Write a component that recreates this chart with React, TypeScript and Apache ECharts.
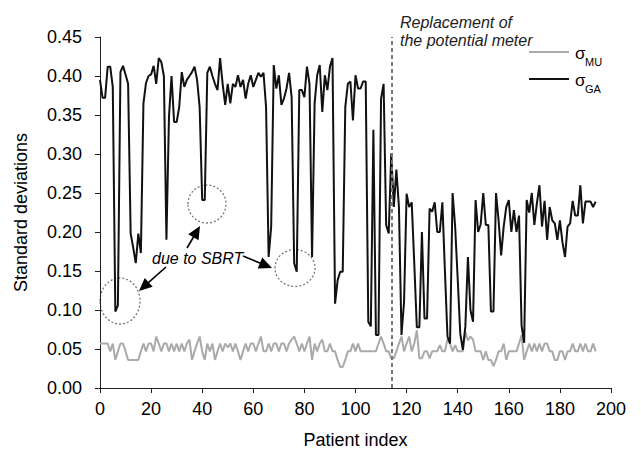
import React, { useEffect, useRef } from "react";
import * as echarts from "echarts";

// sigma_GA (black) – standard deviation per patient
const sigmaGA = [
  0.395, 0.372, 0.372, 0.412, 0.412, 0.386, 0.098, 0.106, 0.405, 0.413,
  0.402, 0.39, 0.198, 0.18, 0.16, 0.198, 0.173, 0.365, 0.391, 0.4,
  0.402, 0.413, 0.39, 0.423, 0.418, 0.4, 0.19, 0.348, 0.4, 0.341,
  0.341, 0.36, 0.405, 0.386, 0.395, 0.4, 0.405, 0.412, 0.395, 0.36,
  0.241, 0.241, 0.404, 0.412, 0.4, 0.39, 0.382, 0.423, 0.39, 0.363,
  0.39, 0.365, 0.39, 0.386, 0.401, 0.386, 0.395, 0.371, 0.39, 0.401,
  0.386, 0.395, 0.404, 0.399, 0.404, 0.36, 0.168, 0.207, 0.414, 0.384,
  0.401, 0.363, 0.371, 0.384, 0.404, 0.373, 0.16, 0.149, 0.382, 0.382,
  0.373, 0.412, 0.39, 0.168, 0.365, 0.401, 0.414, 0.354, 0.401, 0.382,
  0.412, 0.423, 0.108, 0.138, 0.149, 0.149, 0.36, 0.39, 0.393, 0.343,
  0.401, 0.384, 0.384, 0.393, 0.393, 0.085, 0.079, 0.331, 0.068, 0.068,
  0.371, 0.39, 0.209, 0.198, 0.301, 0.232, 0.28, 0.232, 0.068, 0.11,
  0.249, 0.232, 0.238, 0.16, 0.078, 0.078, 0.2, 0.089, 0.089, 0.23,
  0.226, 0.238, 0.2, 0.2, 0.238, 0.15, 0.066, 0.057, 0.25, 0.207,
  0.14, 0.07, 0.049, 0.079, 0.168, 0.1, 0.085, 0.241, 0.2, 0.21,
  0.25, 0.209, 0.209, 0.098, 0.098, 0.25, 0.215, 0.17, 0.207, 0.232,
  0.241, 0.2, 0.228, 0.2, 0.221, 0.08, 0.058, 0.241, 0.225, 0.25,
  0.209, 0.237, 0.26, 0.207, 0.24, 0.19, 0.232, 0.215, 0.211, 0.19,
  0.215, 0.187, 0.168, 0.207, 0.211, 0.24, 0.221, 0.221, 0.26, 0.211,
  0.239, 0.239, 0.239, 0.232, 0.239,
];

// sigma_MU (gray)
const sigmaMU = [
  0.057, 0.057, 0.057, 0.057, 0.047, 0.057, 0.036, 0.047, 0.057, 0.057,
  0.047, 0.036, 0.036, 0.036, 0.036, 0.036, 0.047, 0.057, 0.047, 0.057,
  0.057, 0.047, 0.066, 0.057, 0.047, 0.057, 0.057, 0.047, 0.057, 0.047,
  0.057, 0.047, 0.057, 0.047, 0.057, 0.062, 0.036, 0.047, 0.057, 0.066,
  0.047, 0.036, 0.057, 0.047, 0.057, 0.036, 0.047, 0.057, 0.047, 0.057,
  0.052, 0.057, 0.047, 0.057, 0.047, 0.036, 0.047, 0.057, 0.047, 0.057,
  0.057, 0.047, 0.057, 0.066, 0.047, 0.047, 0.057, 0.047, 0.057, 0.057,
  0.047, 0.057, 0.057, 0.047, 0.057, 0.062, 0.066, 0.057, 0.047, 0.057,
  0.047, 0.057, 0.066, 0.036, 0.057, 0.047, 0.057, 0.062, 0.047, 0.047,
  0.057, 0.047, 0.047, 0.036, 0.027, 0.027, 0.036, 0.047, 0.047, 0.057,
  0.047, 0.057, 0.047, 0.047, 0.047, 0.047, 0.047, 0.047, 0.047, 0.057,
  0.066, 0.057, 0.047, 0.047, 0.038, 0.038, 0.047, 0.057, 0.066, 0.047,
  0.057, 0.066, 0.047, 0.057, 0.074, 0.038, 0.038, 0.047, 0.047, 0.038,
  0.047, 0.047, 0.047, 0.055, 0.047, 0.047, 0.063, 0.057, 0.047, 0.055,
  0.047, 0.047, 0.047, 0.072, 0.061, 0.066, 0.062, 0.047, 0.047, 0.047,
  0.036, 0.047, 0.036, 0.036, 0.028, 0.036, 0.047, 0.047, 0.057, 0.036,
  0.047, 0.047, 0.047, 0.047, 0.057, 0.068, 0.036, 0.047, 0.057, 0.047,
  0.057, 0.047, 0.057, 0.047, 0.057, 0.057, 0.047, 0.047, 0.036, 0.036,
  0.047, 0.047, 0.036, 0.047, 0.047, 0.057, 0.047, 0.047, 0.057, 0.047,
  0.057, 0.047, 0.047, 0.057, 0.047,
];

const patientIndex = sigmaGA.map((_, i) => i);
const replacementIndex = 114;
const yTicks = [0, 0.05, 0.1, 0.15, 0.2, 0.25, 0.3, 0.35, 0.4, 0.45];
const xTicks = [0, 20, 40, 60, 80, 100, 120, 140, 160, 180, 200];

const FONT = "'Liberation Sans', Arial, Helvetica, sans-serif";

function arrow(tail: [number, number], tip: [number, number], headLen = 13, halfW = 6) {
  const dx = tip[0] - tail[0];
  const dy = tip[1] - tail[1];
  const len = Math.hypot(dx, dy);
  const ux = dx / len;
  const uy = dy / len;
  const bx = tip[0] - ux * headLen;
  const by = tip[1] - uy * headLen;
  const px = -uy;
  const py = ux;
  return [
    {
      type: "line",
      shape: { x1: tail[0], y1: tail[1], x2: bx + ux * 2, y2: by + uy * 2 },
      style: { stroke: "#000", lineWidth: 1.6 },
      silent: true,
    },
    {
      type: "polygon",
      shape: {
        points: [
          [tip[0], tip[1]],
          [bx + px * halfW, by + py * halfW],
          [bx - px * halfW, by - py * halfW],
        ],
      },
      style: { fill: "#000" },
      silent: true,
    },
  ];
}

function circle(cx: number, cy: number, rx: number, ry: number) {
  return {
    type: "ellipse",
    shape: { cx, cy, rx, ry },
    style: { fill: "none", stroke: "#777", lineWidth: 1.3, lineDash: [2, 2] },
    silent: true,
  };
}

export default function App() {
  const ref = useRef<HTMLDivElement>(null);
  useEffect(() => {
    if (!ref.current) return;
    const chart = echarts.init(ref.current, undefined, { renderer: "svg" });
    const option: any = {
      animation: false,
      backgroundColor: "#fff",
      grid: { left: 100, right: 30, top: 37, bottom: 66, containLabel: false },
      xAxis: {
        type: "value",
        min: xTicks[0],
        max: xTicks[xTicks.length - 1],
        interval: 20,
        name: "Patient index",
        nameLocation: "middle",
        nameGap: 43,
        nameTextStyle: { fontFamily: FONT, fontSize: 18, color: "#000" },
        axisLine: { show: true, onZero: false, lineStyle: { color: "#222", width: 1 } },
        axisTick: { show: true, inside: false, length: 5, lineStyle: { color: "#222" } },
        axisLabel: { fontFamily: FONT, fontSize: 18, color: "#000", margin: 12 },
        splitLine: { show: false },
      },
      yAxis: {
        type: "value",
        min: yTicks[0],
        max: yTicks[yTicks.length - 1],
        interval: 0.05,
        name: "Standard deviations",
        nameLocation: "middle",
        nameGap: 70,
        nameTextStyle: { fontFamily: FONT, fontSize: 18, color: "#000" },
        axisLine: { show: true, lineStyle: { color: "#222", width: 1 } },
        axisTick: { show: true, inside: false, length: 5, lineStyle: { color: "#222" } },
        axisLabel: {
          fontFamily: FONT,
          fontSize: 18,
          color: "#000",
          margin: 18,
          formatter: (v: number) => v.toFixed(2),
        },
        splitLine: { show: false },
      },
      series: [
        {
          name: "σMU",
          type: "line",
          data: sigmaMU.map((v, i) => [patientIndex[i], v]),
          showSymbol: false,
          symbol: "none",
          lineStyle: { color: "#aaaaaa", width: 2 },
          z: 2,
        },
        {
          name: "σGA",
          type: "line",
          data: sigmaGA.map((v, i) => [patientIndex[i], v]),
          showSymbol: false,
          symbol: "none",
          lineStyle: { color: "#111", width: 2 },
          z: 3,
          markLine: {
            silent: true,
            symbol: "none",
            label: { show: false },
            lineStyle: { type: [4, 3], color: "#777", width: 2 },
            data: [{ xAxis: replacementIndex }],
          },
        },
      ],
      graphic: [
        // legend
        { type: "line", shape: { x1: 529, y1: 52, x2: 569, y2: 52 }, style: { stroke: "#aaaaaa", lineWidth: 2 }, silent: true },
        { type: "text", x: 575, y: 53, style: { text: "σ", font: `17px ${FONT}`, fill: "#000", verticalAlign: "middle" }, silent: true },
        { type: "text", x: 585, y: 62, style: { text: "MU", font: `11px ${FONT}`, fill: "#000", verticalAlign: "middle" }, silent: true },
        { type: "line", shape: { x1: 529, y1: 79, x2: 569, y2: 79 }, style: { stroke: "#111", lineWidth: 2 }, silent: true },
        { type: "text", x: 575, y: 80, style: { text: "σ", font: `17px ${FONT}`, fill: "#000", verticalAlign: "middle" }, silent: true },
        { type: "text", x: 585, y: 89, style: { text: "GA", font: `11px ${FONT}`, fill: "#000", verticalAlign: "middle" }, silent: true },
        // replacement annotation
        { type: "text", x: 400, y: 22, style: { text: "Replacement of", font: `italic 16px ${FONT}`, fill: "#222", verticalAlign: "middle" }, silent: true },
        { type: "text", x: 400, y: 40, style: { text: "the potential meter", font: `italic 16px ${FONT}`, fill: "#222", verticalAlign: "middle" }, silent: true },
        // SBRT annotation
        { type: "text", x: 152, y: 258, style: { text: "due to SBRT", font: `italic 16px ${FONT}`, fill: "#000", verticalAlign: "middle" }, silent: true },
        circle(120, 301, 20, 23),
        circle(207, 204, 19, 19),
        circle(295, 268, 20, 18.5),
        ...arrow([166, 267], [139, 291]),
        ...arrow([187, 248], [200, 226]),
        ...arrow([243, 256], [272, 268]),
      ],
    };
    chart.setOption(option);
    return () => chart.dispose();
  }, []);
  return (
    <div
      ref={ref}
      style={{ position: "fixed", left: 0, top: 0, width: 641, height: 454, background: "#fff" }}
    />
  );
}
